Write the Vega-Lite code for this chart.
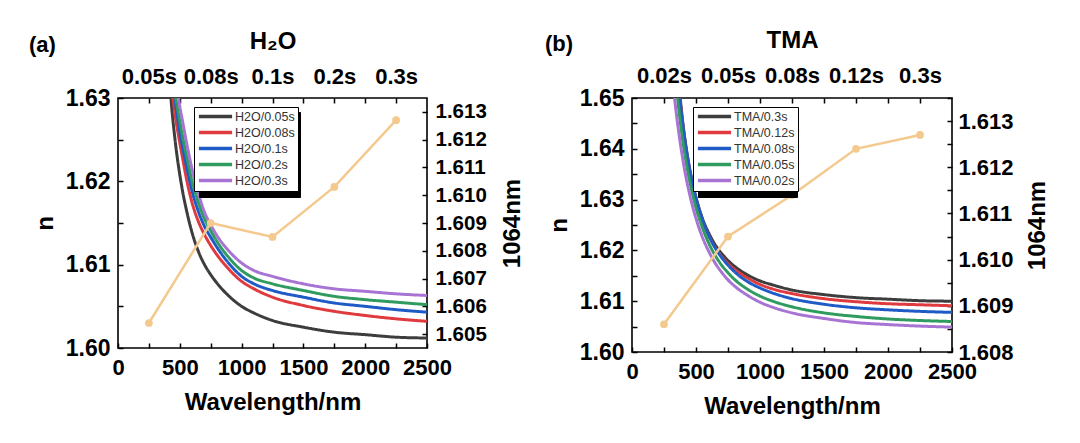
{
  "$schema": "https://vega.github.io/schema/vega-lite/v6.json",
  "background": "white",
  "padding": {"top": 27, "left": 28, "right": 10, "bottom": 5},
  "config": {
    "view": {"stroke": "black", "strokeWidth": 1.6},
    "font": "Liberation Sans",
    "axis": {
      "labelFont": "Liberation Sans", "labelFontWeight": "bold", "labelFontSize": 22, "labelColor": "black", "labelOverlap": false, "labelFlush": false,
      "titleFont": "Liberation Sans", "titleFontWeight": "bold", "titleFontSize": 24, "titleColor": "black",
      "tickColor": "black", "tickWidth": 1.5, "tickSize": 5, "offset": -5, "domain": false, "grid": false
    },
    "legend": {
      "labelFont": "Liberation Sans", "labelFontSize": 12.5, "labelColor": "#333333",
      "symbolType": "M-3.5,0H3.5", "symbolStrokeWidth": 3.5, "symbolSize": 90, "symbolOffset": 12,
      "strokeColor": "black", "fillColor": "white", "padding": 3, "rowPadding": 1, "labelOffset": 13
    },
    "title": {"font": "Liberation Sans", "fontWeight": "bold", "fontSize": 22, "color": "black"}
  },
  "resolve": {"scale": {"color": "independent", "strokeDash": "independent"}},
  "datasets": {
    "h2o": [
      {"s": "H2O/0.05s", "wl": 420, "n": 1.6315}, {"s": "H2O/0.05s", "wl": 440, "n": 1.6280}, {"s": "H2O/0.05s", "wl": 460, "n": 1.6252},
      {"s": "H2O/0.05s", "wl": 480, "n": 1.6228}, {"s": "H2O/0.05s", "wl": 500, "n": 1.6208}, {"s": "H2O/0.05s", "wl": 525, "n": 1.6186},
      {"s": "H2O/0.05s", "wl": 550, "n": 1.6168}, {"s": "H2O/0.05s", "wl": 600, "n": 1.6138}, {"s": "H2O/0.05s", "wl": 650, "n": 1.6116},
      {"s": "H2O/0.05s", "wl": 700, "n": 1.6100}, {"s": "H2O/0.05s", "wl": 750, "n": 1.6088}, {"s": "H2O/0.05s", "wl": 800, "n": 1.6078},
      {"s": "H2O/0.05s", "wl": 900, "n": 1.6062}, {"s": "H2O/0.05s", "wl": 1000, "n": 1.6050}, {"s": "H2O/0.05s", "wl": 1100, "n": 1.6042},
      {"s": "H2O/0.05s", "wl": 1250, "n": 1.6033}, {"s": "H2O/0.05s", "wl": 1500, "n": 1.6025}, {"s": "H2O/0.05s", "wl": 1750, "n": 1.6019},
      {"s": "H2O/0.05s", "wl": 2000, "n": 1.6016}, {"s": "H2O/0.05s", "wl": 2250, "n": 1.6013}, {"s": "H2O/0.05s", "wl": 2500, "n": 1.6012},

      {"s": "H2O/0.08s", "wl": 440, "n": 1.6306}, {"s": "H2O/0.08s", "wl": 460, "n": 1.6282}, {"s": "H2O/0.08s", "wl": 480, "n": 1.6263},
      {"s": "H2O/0.08s", "wl": 500, "n": 1.6246}, {"s": "H2O/0.08s", "wl": 525, "n": 1.6226}, {"s": "H2O/0.08s", "wl": 550, "n": 1.6206},
      {"s": "H2O/0.08s", "wl": 600, "n": 1.6174}, {"s": "H2O/0.08s", "wl": 650, "n": 1.6152}, {"s": "H2O/0.08s", "wl": 700, "n": 1.6136},
      {"s": "H2O/0.08s", "wl": 750, "n": 1.6123}, {"s": "H2O/0.08s", "wl": 800, "n": 1.6112}, {"s": "H2O/0.08s", "wl": 900, "n": 1.6094},
      {"s": "H2O/0.08s", "wl": 1000, "n": 1.6080}, {"s": "H2O/0.08s", "wl": 1100, "n": 1.6071}, {"s": "H2O/0.08s", "wl": 1250, "n": 1.6061},
      {"s": "H2O/0.08s", "wl": 1500, "n": 1.6051}, {"s": "H2O/0.08s", "wl": 1750, "n": 1.6044}, {"s": "H2O/0.08s", "wl": 2000, "n": 1.6039},
      {"s": "H2O/0.08s", "wl": 2250, "n": 1.6035}, {"s": "H2O/0.08s", "wl": 2500, "n": 1.6032},

      {"s": "H2O/0.1s", "wl": 450, "n": 1.6310}, {"s": "H2O/0.1s", "wl": 475, "n": 1.6283}, {"s": "H2O/0.1s", "wl": 500, "n": 1.6259},
      {"s": "H2O/0.1s", "wl": 525, "n": 1.6239}, {"s": "H2O/0.1s", "wl": 550, "n": 1.6221}, {"s": "H2O/0.1s", "wl": 600, "n": 1.6188},
      {"s": "H2O/0.1s", "wl": 650, "n": 1.6164}, {"s": "H2O/0.1s", "wl": 700, "n": 1.6146}, {"s": "H2O/0.1s", "wl": 750, "n": 1.6133},
      {"s": "H2O/0.1s", "wl": 800, "n": 1.6121}, {"s": "H2O/0.1s", "wl": 900, "n": 1.6101}, {"s": "H2O/0.1s", "wl": 1000, "n": 1.6086},
      {"s": "H2O/0.1s", "wl": 1100, "n": 1.6077}, {"s": "H2O/0.1s", "wl": 1250, "n": 1.6069}, {"s": "H2O/0.1s", "wl": 1500, "n": 1.6061},
      {"s": "H2O/0.1s", "wl": 1750, "n": 1.6054}, {"s": "H2O/0.1s", "wl": 2000, "n": 1.6050}, {"s": "H2O/0.1s", "wl": 2250, "n": 1.6046},
      {"s": "H2O/0.1s", "wl": 2500, "n": 1.6043},

      {"s": "H2O/0.2s", "wl": 460, "n": 1.6305}, {"s": "H2O/0.2s", "wl": 475, "n": 1.6293}, {"s": "H2O/0.2s", "wl": 500, "n": 1.6272},
      {"s": "H2O/0.2s", "wl": 525, "n": 1.6252}, {"s": "H2O/0.2s", "wl": 550, "n": 1.6234}, {"s": "H2O/0.2s", "wl": 600, "n": 1.6200},
      {"s": "H2O/0.2s", "wl": 650, "n": 1.6175}, {"s": "H2O/0.2s", "wl": 700, "n": 1.6155}, {"s": "H2O/0.2s", "wl": 750, "n": 1.6141},
      {"s": "H2O/0.2s", "wl": 800, "n": 1.6128}, {"s": "H2O/0.2s", "wl": 900, "n": 1.6108}, {"s": "H2O/0.2s", "wl": 1000, "n": 1.6093},
      {"s": "H2O/0.2s", "wl": 1100, "n": 1.6084}, {"s": "H2O/0.2s", "wl": 1250, "n": 1.6077}, {"s": "H2O/0.2s", "wl": 1500, "n": 1.6069},
      {"s": "H2O/0.2s", "wl": 1750, "n": 1.6062}, {"s": "H2O/0.2s", "wl": 2000, "n": 1.6058}, {"s": "H2O/0.2s", "wl": 2250, "n": 1.6055},
      {"s": "H2O/0.2s", "wl": 2500, "n": 1.6052},

      {"s": "H2O/0.3s", "wl": 475, "n": 1.6318}, {"s": "H2O/0.3s", "wl": 500, "n": 1.6290}, {"s": "H2O/0.3s", "wl": 525, "n": 1.6270},
      {"s": "H2O/0.3s", "wl": 550, "n": 1.6250}, {"s": "H2O/0.3s", "wl": 600, "n": 1.6214}, {"s": "H2O/0.3s", "wl": 650, "n": 1.6186},
      {"s": "H2O/0.3s", "wl": 700, "n": 1.6163}, {"s": "H2O/0.3s", "wl": 750, "n": 1.6148}, {"s": "H2O/0.3s", "wl": 800, "n": 1.6135},
      {"s": "H2O/0.3s", "wl": 900, "n": 1.6116}, {"s": "H2O/0.3s", "wl": 1000, "n": 1.6102}, {"s": "H2O/0.3s", "wl": 1100, "n": 1.6093},
      {"s": "H2O/0.3s", "wl": 1250, "n": 1.6086}, {"s": "H2O/0.3s", "wl": 1500, "n": 1.6077}, {"s": "H2O/0.3s", "wl": 1750, "n": 1.6071},
      {"s": "H2O/0.3s", "wl": 2000, "n": 1.6068}, {"s": "H2O/0.3s", "wl": 2250, "n": 1.6065}, {"s": "H2O/0.3s", "wl": 2500, "n": 1.6063}
    ],
    "h2oPts": [
      {"wl": 250, "v": 1.6054}, {"wl": 750, "v": 1.6090}, {"wl": 1250, "v": 1.6085}, {"wl": 1750, "v": 1.6103}, {"wl": 2250, "v": 1.6127}
    ],
    "tma": [
      {"s": "TMA/0.3s", "wl": 360, "n": 1.6546}, {"s": "TMA/0.3s", "wl": 375, "n": 1.6504}, {"s": "TMA/0.3s", "wl": 400, "n": 1.6445},
      {"s": "TMA/0.3s", "wl": 425, "n": 1.6399}, {"s": "TMA/0.3s", "wl": 450, "n": 1.6361}, {"s": "TMA/0.3s", "wl": 475, "n": 1.6330},
      {"s": "TMA/0.3s", "wl": 500, "n": 1.6304}, {"s": "TMA/0.3s", "wl": 550, "n": 1.6263}, {"s": "TMA/0.3s", "wl": 600, "n": 1.6234},
      {"s": "TMA/0.3s", "wl": 650, "n": 1.6211}, {"s": "TMA/0.3s", "wl": 700, "n": 1.6194}, {"s": "TMA/0.3s", "wl": 750, "n": 1.6180},
      {"s": "TMA/0.3s", "wl": 800, "n": 1.6169}, {"s": "TMA/0.3s", "wl": 900, "n": 1.6152}, {"s": "TMA/0.3s", "wl": 1000, "n": 1.6140},
      {"s": "TMA/0.3s", "wl": 1100, "n": 1.6132}, {"s": "TMA/0.3s", "wl": 1250, "n": 1.6122}, {"s": "TMA/0.3s", "wl": 1500, "n": 1.6113},
      {"s": "TMA/0.3s", "wl": 1750, "n": 1.6107}, {"s": "TMA/0.3s", "wl": 2000, "n": 1.6104}, {"s": "TMA/0.3s", "wl": 2250, "n": 1.6101},
      {"s": "TMA/0.3s", "wl": 2500, "n": 1.6100},

      {"s": "TMA/0.12s", "wl": 360, "n": 1.6538}, {"s": "TMA/0.12s", "wl": 375, "n": 1.6497}, {"s": "TMA/0.12s", "wl": 400, "n": 1.6440},
      {"s": "TMA/0.12s", "wl": 425, "n": 1.6394}, {"s": "TMA/0.12s", "wl": 450, "n": 1.6357}, {"s": "TMA/0.12s", "wl": 475, "n": 1.6326},
      {"s": "TMA/0.12s", "wl": 500, "n": 1.6300}, {"s": "TMA/0.12s", "wl": 550, "n": 1.6259}, {"s": "TMA/0.12s", "wl": 600, "n": 1.6229},
      {"s": "TMA/0.12s", "wl": 650, "n": 1.6206}, {"s": "TMA/0.12s", "wl": 700, "n": 1.6188}, {"s": "TMA/0.12s", "wl": 750, "n": 1.6174},
      {"s": "TMA/0.12s", "wl": 800, "n": 1.6163}, {"s": "TMA/0.12s", "wl": 900, "n": 1.6146}, {"s": "TMA/0.12s", "wl": 1000, "n": 1.6133},
      {"s": "TMA/0.12s", "wl": 1100, "n": 1.6124}, {"s": "TMA/0.12s", "wl": 1250, "n": 1.6115}, {"s": "TMA/0.12s", "wl": 1500, "n": 1.6105},
      {"s": "TMA/0.12s", "wl": 1750, "n": 1.6099}, {"s": "TMA/0.12s", "wl": 2000, "n": 1.6095}, {"s": "TMA/0.12s", "wl": 2250, "n": 1.6093},
      {"s": "TMA/0.12s", "wl": 2500, "n": 1.6091},

      {"s": "TMA/0.08s", "wl": 360, "n": 1.6535}, {"s": "TMA/0.08s", "wl": 375, "n": 1.6496}, {"s": "TMA/0.08s", "wl": 400, "n": 1.6441},
      {"s": "TMA/0.08s", "wl": 425, "n": 1.6397}, {"s": "TMA/0.08s", "wl": 450, "n": 1.6360}, {"s": "TMA/0.08s", "wl": 475, "n": 1.6329},
      {"s": "TMA/0.08s", "wl": 500, "n": 1.6303}, {"s": "TMA/0.08s", "wl": 550, "n": 1.6261}, {"s": "TMA/0.08s", "wl": 600, "n": 1.6229},
      {"s": "TMA/0.08s", "wl": 650, "n": 1.6205}, {"s": "TMA/0.08s", "wl": 700, "n": 1.6186}, {"s": "TMA/0.08s", "wl": 750, "n": 1.6171},
      {"s": "TMA/0.08s", "wl": 800, "n": 1.6158}, {"s": "TMA/0.08s", "wl": 900, "n": 1.6139}, {"s": "TMA/0.08s", "wl": 1000, "n": 1.6126},
      {"s": "TMA/0.08s", "wl": 1100, "n": 1.6116}, {"s": "TMA/0.08s", "wl": 1250, "n": 1.6105}, {"s": "TMA/0.08s", "wl": 1500, "n": 1.6094},
      {"s": "TMA/0.08s", "wl": 1750, "n": 1.6087}, {"s": "TMA/0.08s", "wl": 2000, "n": 1.6083}, {"s": "TMA/0.08s", "wl": 2250, "n": 1.6080},
      {"s": "TMA/0.08s", "wl": 2500, "n": 1.6078},

      {"s": "TMA/0.05s", "wl": 350, "n": 1.6514}, {"s": "TMA/0.05s", "wl": 375, "n": 1.6458}, {"s": "TMA/0.05s", "wl": 400, "n": 1.6410},
      {"s": "TMA/0.05s", "wl": 425, "n": 1.6371}, {"s": "TMA/0.05s", "wl": 450, "n": 1.6337}, {"s": "TMA/0.05s", "wl": 475, "n": 1.6309},
      {"s": "TMA/0.05s", "wl": 500, "n": 1.6284}, {"s": "TMA/0.05s", "wl": 550, "n": 1.6245}, {"s": "TMA/0.05s", "wl": 600, "n": 1.6214},
      {"s": "TMA/0.05s", "wl": 650, "n": 1.6190}, {"s": "TMA/0.05s", "wl": 700, "n": 1.6171}, {"s": "TMA/0.05s", "wl": 750, "n": 1.6156},
      {"s": "TMA/0.05s", "wl": 800, "n": 1.6143}, {"s": "TMA/0.05s", "wl": 900, "n": 1.6124}, {"s": "TMA/0.05s", "wl": 1000, "n": 1.6110},
      {"s": "TMA/0.05s", "wl": 1100, "n": 1.6100}, {"s": "TMA/0.05s", "wl": 1250, "n": 1.6089}, {"s": "TMA/0.05s", "wl": 1500, "n": 1.6077},
      {"s": "TMA/0.05s", "wl": 1750, "n": 1.6070}, {"s": "TMA/0.05s", "wl": 2000, "n": 1.6065}, {"s": "TMA/0.05s", "wl": 2250, "n": 1.6062},
      {"s": "TMA/0.05s", "wl": 2500, "n": 1.6060},

      {"s": "TMA/0.02s", "wl": 325, "n": 1.6517}, {"s": "TMA/0.02s", "wl": 340, "n": 1.6483}, {"s": "TMA/0.02s", "wl": 350, "n": 1.6462},
      {"s": "TMA/0.02s", "wl": 375, "n": 1.6415}, {"s": "TMA/0.02s", "wl": 400, "n": 1.6375}, {"s": "TMA/0.02s", "wl": 425, "n": 1.6340},
      {"s": "TMA/0.02s", "wl": 450, "n": 1.6311}, {"s": "TMA/0.02s", "wl": 475, "n": 1.6285}, {"s": "TMA/0.02s", "wl": 500, "n": 1.6263},
      {"s": "TMA/0.02s", "wl": 550, "n": 1.6226}, {"s": "TMA/0.02s", "wl": 600, "n": 1.6198}, {"s": "TMA/0.02s", "wl": 650, "n": 1.6175},
      {"s": "TMA/0.02s", "wl": 700, "n": 1.6157}, {"s": "TMA/0.02s", "wl": 750, "n": 1.6142}, {"s": "TMA/0.02s", "wl": 800, "n": 1.6130},
      {"s": "TMA/0.02s", "wl": 900, "n": 1.6112}, {"s": "TMA/0.02s", "wl": 1000, "n": 1.6098}, {"s": "TMA/0.02s", "wl": 1100, "n": 1.6088},
      {"s": "TMA/0.02s", "wl": 1250, "n": 1.6077}, {"s": "TMA/0.02s", "wl": 1500, "n": 1.6066}, {"s": "TMA/0.02s", "wl": 1750, "n": 1.6058},
      {"s": "TMA/0.02s", "wl": 2000, "n": 1.6054}, {"s": "TMA/0.02s", "wl": 2250, "n": 1.6051}, {"s": "TMA/0.02s", "wl": 2500, "n": 1.6049}
    ],
    "tmaPts": [
      {"wl": 250, "v": 1.6086}, {"wl": 750, "v": 1.6105}, {"wl": 1250, "v": 1.6114}, {"wl": 1750, "v": 1.6124}, {"wl": 2250, "v": 1.6127}
    ]
  },
  "columns": 2,
  "align": "none",
  "spacing": 18,
  "concat": [
    {
      "width": 309,
      "height": 250,
      "title": {"text": "(a)", "anchor": "start", "frame": "group", "dx": -89, "dy": 28, "offset": 0},
      "layer": [
        {
          "data": {"name": "h2o"},
          "mark": {"type": "line", "strokeWidth": 3, "clip": true, "interpolate": "monotone"},
          "encoding": {
            "x": {
              "field": "wl", "type": "quantitative",
              "scale": {"domain": [0, 2500], "nice": false},
              "axis": {
                "orient": "bottom", "title": "Wavelength/nm", "titlePadding": 12, "labelPadding": 9,
                "values": [0, 250, 500, 750, 1000, 1250, 1500, 1750, 2000, 2250, 2500],
                "labelExpr": "datum.value % 500 == 0 ? format(datum.value, 'd') : ''"
              }
            },
            "y": {
              "field": "n", "type": "quantitative",
              "scale": {"domain": [1.6, 1.63], "nice": false, "zero": false},
              "axis": {
                "orient": "left", "title": "n", "titlePadding": 8, "labelPadding": 8, "labelFontSize": 23,
                "values": [1.6, 1.605, 1.61, 1.615, 1.62, 1.625, 1.63],
                "labelExpr": "round(datum.value * 1000) % 10 == 0 ? format(datum.value, '.2f') : ''"
              }
            },
            "color": {
              "field": "s", "type": "nominal",
              "scale": {
                "domain": ["H2O/0.05s", "H2O/0.08s", "H2O/0.1s", "H2O/0.2s", "H2O/0.3s"],
                "range": ["#3d3d3d", "#e0393e", "#1f5bc6", "#2f9b5f", "#a774d3"]
              },
              "legend": {"orient": "none", "legendX": 76, "legendY": 9, "title": null, "zindex": 2}
            },
            "strokeDash": {
              "field": "s", "type": "nominal",
              "scale": {
                "domain": ["H2O/0.3s", "H2O/0.2s", "H2O/0.1s", "H2O/0.08s", "H2O/0.05s"],
                "range": [[1, 0], [1, 0], [1, 0], [1, 0], [1, 0]]
              },
              "legend": {
                "orient": "none", "legendX": 81, "legendY": 14, "title": null, "zindex": 1,
                "fillColor": "black", "strokeColor": "black", "labelExpr": "''",
                "symbolType": "M-6.5,-1H6.5V1H-6.5Z", "symbolSize": 200, "symbolOffset": 41,
                "symbolStrokeColor": "black", "symbolFillColor": "black", "symbolStrokeWidth": 0
              }
            }
          }
        },
        {
          "data": {"name": "h2oPts"},
          "mark": {"type": "line", "color": "#f4c98e", "strokeWidth": 2.5, "point": {"filled": true, "size": 60, "color": "#f4c98e"}},
          "encoding": {
            "x": {
              "field": "wl", "type": "quantitative",
              "scale": {"domain": [0, 2500], "nice": false},
              "axis": {
                "orient": "top", "title": "H₂O", "titleFontSize": 24, "titlePadding": 12, "labelPadding": 10,
                "values": [250, 500, 750, 1000, 1250, 1500, 1750, 2000, 2250],
                "labelExpr": "datum.value == 250 ? '0.05s' : datum.value == 750 ? '0.08s' : datum.value == 1250 ? '0.1s' : datum.value == 1750 ? '0.2s' : datum.value == 2250 ? '0.3s' : ''"
              }
            },
            "y": {
              "field": "v", "type": "quantitative",
              "scale": {"domain": [1.6045, 1.6135], "nice": false, "zero": false},
              "axis": {
                "orient": "right", "title": "1064nm", "titleAngle": -90, "titleBaseline": "top", "titlePadding": 14, "labelPadding": 8, "labelFontSize": 20.5,
                "values": [1.605, 1.606, 1.607, 1.608, 1.609, 1.61, 1.611, 1.612, 1.613],
                "format": ".3f"
              }
            }
          }
        }
      ],
      "resolve": {"scale": {"x": "independent", "y": "independent"}, "axis": {"x": "independent", "y": "independent"}}
    },
    {
      "width": 320,
      "height": 254,
      "title": {"text": "(b)", "anchor": "start", "frame": "group", "dx": -87, "dy": 28, "offset": 0},
      "layer": [
        {
          "data": {"name": "tma"},
          "mark": {"type": "line", "strokeWidth": 3, "clip": true, "interpolate": "monotone"},
          "encoding": {
            "x": {
              "field": "wl", "type": "quantitative",
              "scale": {"domain": [0, 2500], "nice": false},
              "axis": {
                "orient": "bottom", "title": "Wavelength/nm", "titlePadding": 12, "labelPadding": 9,
                "values": [0, 250, 500, 750, 1000, 1250, 1500, 1750, 2000, 2250, 2500],
                "labelExpr": "datum.value % 500 == 0 ? format(datum.value, 'd') : ''"
              }
            },
            "y": {
              "field": "n", "type": "quantitative",
              "scale": {"domain": [1.6, 1.65], "nice": false, "zero": false},
              "axis": {
                "orient": "left", "title": "n", "titlePadding": 8, "labelPadding": 8, "labelFontSize": 23,
                "values": [1.6, 1.605, 1.61, 1.615, 1.62, 1.625, 1.63, 1.635, 1.64, 1.645, 1.65],
                "labelExpr": "round(datum.value * 1000) % 10 == 0 ? format(datum.value, '.2f') : ''"
              }
            },
            "color": {
              "field": "s", "type": "nominal",
              "scale": {
                "domain": ["TMA/0.3s", "TMA/0.12s", "TMA/0.08s", "TMA/0.05s", "TMA/0.02s"],
                "range": ["#3d3d3d", "#e0393e", "#1f5bc6", "#2f9b5f", "#a774d3"]
              },
              "legend": {"orient": "none", "legendX": 61, "legendY": 9, "title": null, "zindex": 2}
            },
            "strokeDash": {
              "field": "s", "type": "nominal",
              "scale": {
                "domain": ["TMA/0.02s", "TMA/0.05s", "TMA/0.08s", "TMA/0.12s", "TMA/0.3s"],
                "range": [[1, 0], [1, 0], [1, 0], [1, 0], [1, 0]]
              },
              "legend": {
                "orient": "none", "legendX": 66, "legendY": 14, "title": null, "zindex": 1,
                "fillColor": "black", "strokeColor": "black", "labelExpr": "''",
                "symbolType": "M-6.5,-1H6.5V1H-6.5Z", "symbolSize": 200, "symbolOffset": 39,
                "symbolStrokeColor": "black", "symbolFillColor": "black", "symbolStrokeWidth": 0
              }
            }
          }
        },
        {
          "data": {"name": "tmaPts"},
          "mark": {"type": "line", "color": "#f4c98e", "strokeWidth": 2.5, "point": {"filled": true, "size": 60, "color": "#f4c98e"}},
          "encoding": {
            "x": {
              "field": "wl", "type": "quantitative",
              "scale": {"domain": [0, 2500], "nice": false},
              "axis": {
                "orient": "top", "title": "TMA", "titleFontSize": 24, "titlePadding": 12, "labelPadding": 11,
                "values": [250, 500, 750, 1000, 1250, 1500, 1750, 2000, 2250],
                "labelExpr": "datum.value == 250 ? '0.02s' : datum.value == 750 ? '0.05s' : datum.value == 1250 ? '0.08s' : datum.value == 1750 ? '0.12s' : datum.value == 2250 ? '0.3s' : ''"
              }
            },
            "y": {
              "field": "v", "type": "quantitative",
              "scale": {"domain": [1.608, 1.6135], "nice": false, "zero": false},
              "axis": {
                "orient": "right", "title": "1064nm", "titleAngle": -90, "titleBaseline": "top", "titlePadding": 12, "labelPadding": 6,
                "values": [1.608, 1.6085, 1.609, 1.6095, 1.61, 1.6105, 1.611, 1.6115, 1.612, 1.6125, 1.613, 1.6135],
                "labelExpr": "round(datum.value * 10000) % 10 == 0 ? format(datum.value, '.3f') : ''"
              }
            }
          }
        }
      ],
      "resolve": {"scale": {"x": "independent", "y": "independent"}, "axis": {"x": "independent", "y": "independent"}}
    }
  ]
}
